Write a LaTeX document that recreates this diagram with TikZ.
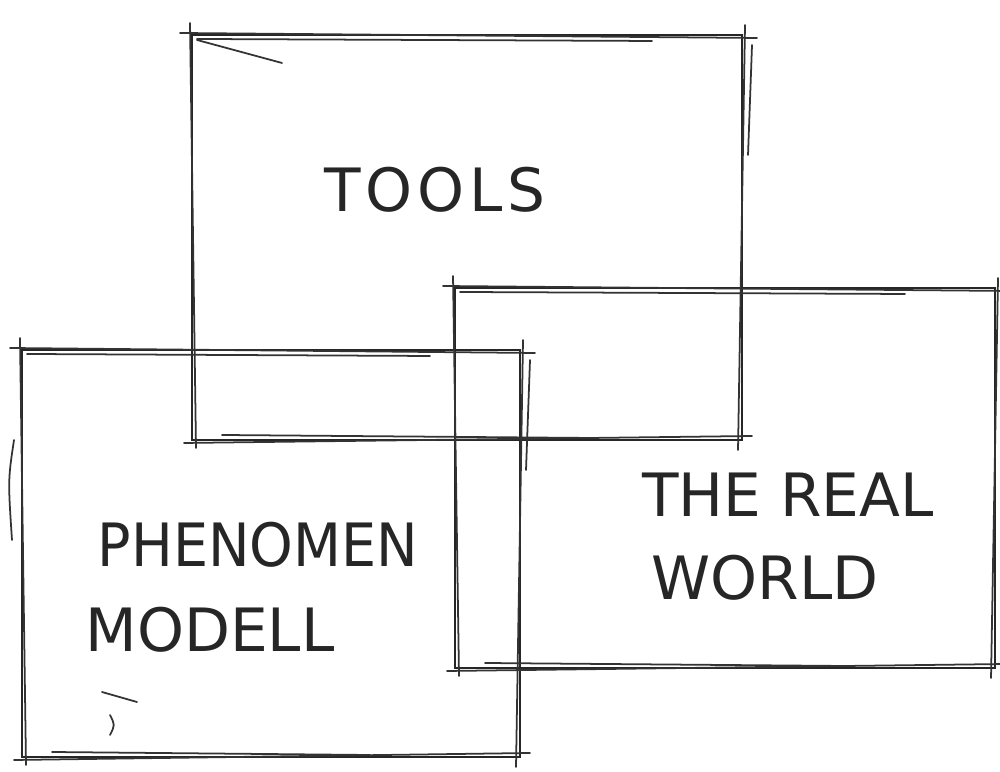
\documentclass[tikz,border=0pt]{standalone}
\usepackage{fontspec}
\setsansfont{DejaVu Sans}
\usetikzlibrary{positioning}

\begin{document}
\begin{tikzpicture}[
    node distance=0.3cm,
    frame/.style={draw, line width=0.7pt, inner sep=0pt, outer sep=0pt, black!85},
    pass/.style={line width=0.5pt, black!80, line cap=round},
    word/.style={font=\sffamily\fontsize{17}{20}\selectfont, text=black!85, inner sep=1pt}
]
\useasboundingbox (0,0) rectangle (10,7.72);

% Frames
\node[frame, minimum width=5.5cm, minimum height=4.05cm] (tools) at (4.67,5.345) {};
\node[frame, minimum width=5.4cm, minimum height=3.8cm] (world) at (7.25,2.94) {};
\node[frame, minimum width=4.98cm, minimum height=4.07cm] (phen) at (2.71,2.185) {};

% Second strokes of the sketch
\foreach \b in {tools,world,phen} {
  \draw[pass] ([shift={(-0.12,0.02)}]\b.north west) -- ([shift={(0.15,-0.03)}]\b.north east);
  \draw[pass] ([shift={(0.05,-0.04)}]\b.north west) -- ([shift={(-0.9,-0.06)}]\b.north east);
  \draw[pass] ([shift={(-0.02,0.12)}]\b.north west) -- ([shift={(0.04,-0.08)}]\b.south west);
  \draw[pass] ([shift={(-0.08,-0.03)}]\b.south west) -- ([shift={(0.1,0.04)}]\b.south east);
  \draw[pass] ([shift={(0.3,0.05)}]\b.south west) -- ([shift={(-1.5,0.02)}]\b.south east);
  \draw[pass] ([shift={(0.03,0.1)}]\b.north east) -- ([shift={(-0.04,-0.1)}]\b.south east);
  \draw[pass] ([shift={(0.1,-0.1)}]\b.north east) -- ([shift={(0.06,-1.2)}]\b.north east);
}

% Stray marks
\draw[pass] ([shift={(0.05,-0.05)}]tools.north west) -- ([shift={(0.9,-0.28)}]tools.north west);
\draw[pass] ([shift={(-0.08,-0.9)}]phen.north west) .. controls ([shift={(-0.14,-1.3)}]phen.north west) .. ([shift={(-0.1,-1.9)}]phen.north west);
\draw[pass] ([shift={(0.8,0.65)}]phen.south west) -- ([shift={(1.15,0.55)}]phen.south west);
\draw[pass] ([shift={(0.88,0.42)}]phen.south west) .. controls ([shift={(0.93,0.32)}]phen.south west) .. ([shift={(0.88,0.22)}]phen.south west);

% Labels
\node[word, font=\sffamily\fontsize{17}{20}\selectfont\addfontfeature{LetterSpace=8}] (toolslabel) at (4.35,5.82) {TOOLS};
\node[word] (thereal) at (7.88,2.77) {THE REAL};
\node[word] (worldlabel) at (7.65,1.94) {WORLD};
\node[word, xscale=0.93] (phenomen) at (2.58,2.27) {PHENOMEN};
\node[word] (modell) at (2.1,1.42) {MODELL};

\end{tikzpicture}
\end{document}
